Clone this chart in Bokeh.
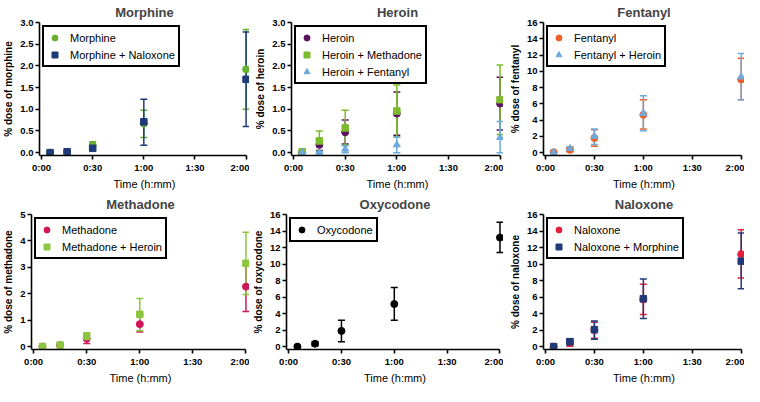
from bokeh.plotting import figure
from bokeh.layouts import row, column
from bokeh.models import (ColumnDataSource, Whisker, TeeHead, Legend, LegendItem,
                          FixedTicker, NumeralTickFormatter)
from bokeh.embed import file_html
from bokeh.resources import INLINE

# ---------------- data ----------------
times = [5, 15, 30, 60, 120]          # minutes
x_ticks = [0, 30, 60, 90, 120]
x_tick_labels = ["0:00", "0:30", "1:00", "1:30", "2:00"]

# Morphine panel
morphine = [0.0, 0.02, 0.18, 0.67, 1.92]
morphine_lo = [0.0, 0.01, 0.11, 0.35, 1.00]
morphine_hi = [0.01, 0.03, 0.25, 0.98, 2.84]
morph_nal = [0.0, 0.02, 0.10, 0.71, 1.69]
morph_nal_lo = [0.0, 0.01, 0.05, 0.17, 0.60]
morph_nal_hi = [0.01, 0.03, 0.15, 1.23, 2.78]

# Heroin panel
heroin = [0.0, 0.18, 0.47, 0.90, 1.13]
heroin_lo = [0.0, 0.05, 0.20, 0.40, 0.52]
heroin_hi = [0.01, 0.30, 0.75, 1.40, 1.74]
her_meth = [0.02, 0.27, 0.57, 0.96, 1.22]
her_meth_lo = [0.0, 0.03, 0.17, 0.36, 0.42]
her_meth_hi = [0.04, 0.50, 0.98, 1.56, 2.02]
her_fent = [0.0, 0.0, 0.08, 0.18, 0.35]
her_fent_lo = [0.0, 0.0, 0.0, 0.0, 0.0]
her_fent_hi = [0.0, 0.02, 0.16, 0.36, 0.72]

# Fentanyl panel
fentanyl = [0.05, 0.35, 1.80, 4.65, 9.00]
fentanyl_lo = [0.0, 0.10, 0.80, 2.90, 6.50]
fentanyl_hi = [0.10, 0.65, 2.80, 6.50, 11.60]
fent_her = [0.05, 0.50, 2.00, 4.80, 9.30]
fent_her_lo = [0.0, 0.25, 1.00, 2.70, 6.50]
fent_her_hi = [0.10, 0.70, 2.90, 7.00, 12.20]

# Methadone panel
methadone = [0.0, 0.05, 0.30, 0.85, 2.27]
methadone_lo = [0.0, 0.02, 0.12, 0.55, 1.33]
methadone_hi = [0.01, 0.08, 0.45, 1.20, 3.20]
meth_her = [0.0, 0.06, 0.38, 1.22, 3.15]
meth_her_lo = [0.0, 0.03, 0.25, 0.60, 1.97]
meth_her_hi = [0.01, 0.09, 0.52, 1.82, 4.33]

# Oxycodone panel
oxycodone = [0.0, 0.35, 1.90, 5.15, 13.20]
oxycodone_lo = [0.0, 0.10, 0.60, 3.20, 11.40]
oxycodone_hi = [0.05, 0.60, 3.20, 7.15, 15.05]

# Naloxone panel
naloxone = [0.0, 0.50, 2.00, 5.70, 11.20]
naloxone_lo = [0.0, 0.05, 1.00, 3.90, 8.30]
naloxone_hi = [0.05, 0.90, 2.95, 7.55, 14.15]
nal_morph = [0.0, 0.60, 2.05, 5.80, 10.35]
nal_morph_lo = [0.0, 0.20, 0.90, 3.40, 7.00]
nal_morph_hi = [0.05, 0.95, 3.10, 8.20, 13.75]

# ---------------- styling ----------------
FONT = "Liberation Sans"
GREEN = "#66B032"
NAVY = "#1F3A78"
PURPLE = "#5C1060"
LGREEN = "#7CBB2C"
LBLUE = "#6DA9DA"
ORANGE = "#EE6028"
CRIMSON = "#D0175A"
MGREEN = "#8CC63E"
BLACK = "#000000"
RED = "#E61E3C"


def make_panel(title, ylabel, ymax, ystep, yfmt, series, width, height,
               left=0, right=0, top=0, bottom=0):
    x_pad_lo = 1.2
    x_pad_hi = 2.0
    y_pad = ymax * 0.022
    p = figure(width=width, height=height, output_backend="svg",
               toolbar_location=None, x_range=(-x_pad_lo, 120 + x_pad_hi),
               y_range=(-y_pad, ymax),
               min_border_left=left, min_border_right=right,
               min_border_top=top, min_border_bottom=bottom)
    p.outline_line_color = None
    p.xgrid.visible = False
    p.ygrid.visible = False
    p.background_fill_color = "white"
    p.border_fill_color = "white"

    p.title.text = title
    p.title.align = "center"
    p.title.text_font = FONT
    p.title.text_font_size = "13px"
    p.title.text_font_style = "bold"
    p.title.standoff = 5

    for ax in (p.xaxis[0], p.yaxis[0]):
        ax.axis_line_width = 1.6
        ax.axis_line_color = "black"
        ax.major_tick_line_width = 1.6
        ax.major_tick_line_color = "black"
        ax.major_tick_out = 4
        ax.major_tick_in = 0
        ax.minor_tick_line_color = None
        ax.major_label_text_font = FONT
        ax.major_label_text_font_style = "bold"
        ax.major_label_text_font_size = "9.5px"
        ax.major_label_text_color = "black"
        ax.major_label_standoff = 2
        ax.axis_label_text_font = FONT
        ax.axis_label_text_color = "black"

    p.xaxis.bounds = (-x_pad_lo, 120)
    p.xaxis.ticker = FixedTicker(ticks=x_ticks, minor_ticks=[])
    p.xaxis.major_label_overrides = {t: l for t, l in zip(x_ticks, x_tick_labels)}
    p.xaxis.axis_label = "Time (h:mm)"
    p.xaxis.axis_label_text_font_size = "11px"
    p.xaxis.axis_label_text_font_style = "normal"
    p.xaxis.axis_label_standoff = 2

    yt = []
    v = 0.0
    while v <= ymax + 1e-9:
        yt.append(round(v, 3))
        v += ystep
    p.yaxis.ticker = FixedTicker(ticks=yt, minor_ticks=[])
    p.yaxis.formatter = NumeralTickFormatter(format=yfmt)
    p.yaxis.axis_label = ylabel
    p.yaxis.axis_label_text_font_size = "10px"
    p.yaxis.axis_label_text_font_style = "bold"
    p.yaxis.axis_label_standoff = 3

    items = []
    for name, vals, lo, hi, marker, color, size in series:
        src = ColumnDataSource(dict(x=times, y=vals, lo=lo, hi=hi))
        w = Whisker(base="x", lower="lo", upper="hi", source=src,
                    line_color=color, line_width=1.5,
                    lower_head=TeeHead(size=7, line_color=color, line_width=1.5),
                    upper_head=TeeHead(size=7, line_color=color, line_width=1.5))
        p.add_layout(w)
        r = p.scatter("x", "y", source=src, marker=marker, size=size,
                      fill_color=color, line_color=color)
        items.append(LegendItem(label=name, renderers=[r]))

    leg = Legend(items=items, location="top_left",
                 border_line_color="black", border_line_width=2,
                 border_line_alpha=1.0,
                 background_fill_color="white", background_fill_alpha=1,
                 label_text_font=FONT, label_text_font_size="11px",
                 label_text_color="black",
                 glyph_width=15, glyph_height=15, label_height=15,
                 label_standoff=8, spacing=2, padding=3, margin=3)
    p.add_layout(leg, "center")
    return p


H1 = 192
H2 = 194
W1, W2, W3 = 249, 254, 241
p1 = make_panel("Morphine", "% dose of morphine", 3.0, 0.5, "0.0", [
    ("Morphine", morphine, morphine_lo, morphine_hi, "circle", GREEN, 7),
    ("Morphine + Naloxone", morph_nal, morph_nal_lo, morph_nal_hi, "square", NAVY, 6.5),
], W1, H1)

p2 = make_panel("Heroin", "% dose of heroin", 3.0, 0.5, "0.0", [
    ("Heroin", heroin, heroin_lo, heroin_hi, "circle", PURPLE, 7),
    ("Heroin + Methadone", her_meth, her_meth_lo, her_meth_hi, "square", LGREEN, 6.5),
    ("Heroin + Fentanyl", her_fent, her_fent_lo, her_fent_hi, "triangle", LBLUE, 7),
], W2, H1, left=42)

p3 = make_panel("Fentanyl", "% dose of fentanyl", 16, 2, "0", [
    ("Fentanyl", fentanyl, fentanyl_lo, fentanyl_hi, "circle", ORANGE, 7),
    ("Fentanyl + Heroin", fent_her, fent_her_lo, fent_her_hi, "triangle", LBLUE, 7),
], W3, H1, left=40)

p4 = make_panel("Methadone", "% dose of methadone", 5, 1, "0", [
    ("Methadone", methadone, methadone_lo, methadone_hi, "circle", CRIMSON, 7),
    ("Methadone + Heroin", meth_her, meth_her_lo, meth_her_hi, "square", MGREEN, 6.5),
], W1, H2, top=22)

p5 = make_panel("Oxycodone", "% dose of oxycodone", 16, 2, "0", [
    ("Oxycodone", oxycodone, oxycodone_lo, oxycodone_hi, "circle", BLACK, 7),
], W2, H2, left=36, top=22)

p6 = make_panel("Naloxone", "% dose of naloxone", 16, 2, "0", [
    ("Naloxone", naloxone, naloxone_lo, naloxone_hi, "circle", RED, 7),
    ("Naloxone + Morphine", nal_morph, nal_morph_lo, nal_morph_hi, "square", NAVY, 6.5),
], W3, H2, left=40, top=22)

layout = column(row(p1, p2, p3, spacing=0), row(p4, p5, p6, spacing=0), spacing=0)

open("out.html", "w").write(file_html(layout, INLINE))
